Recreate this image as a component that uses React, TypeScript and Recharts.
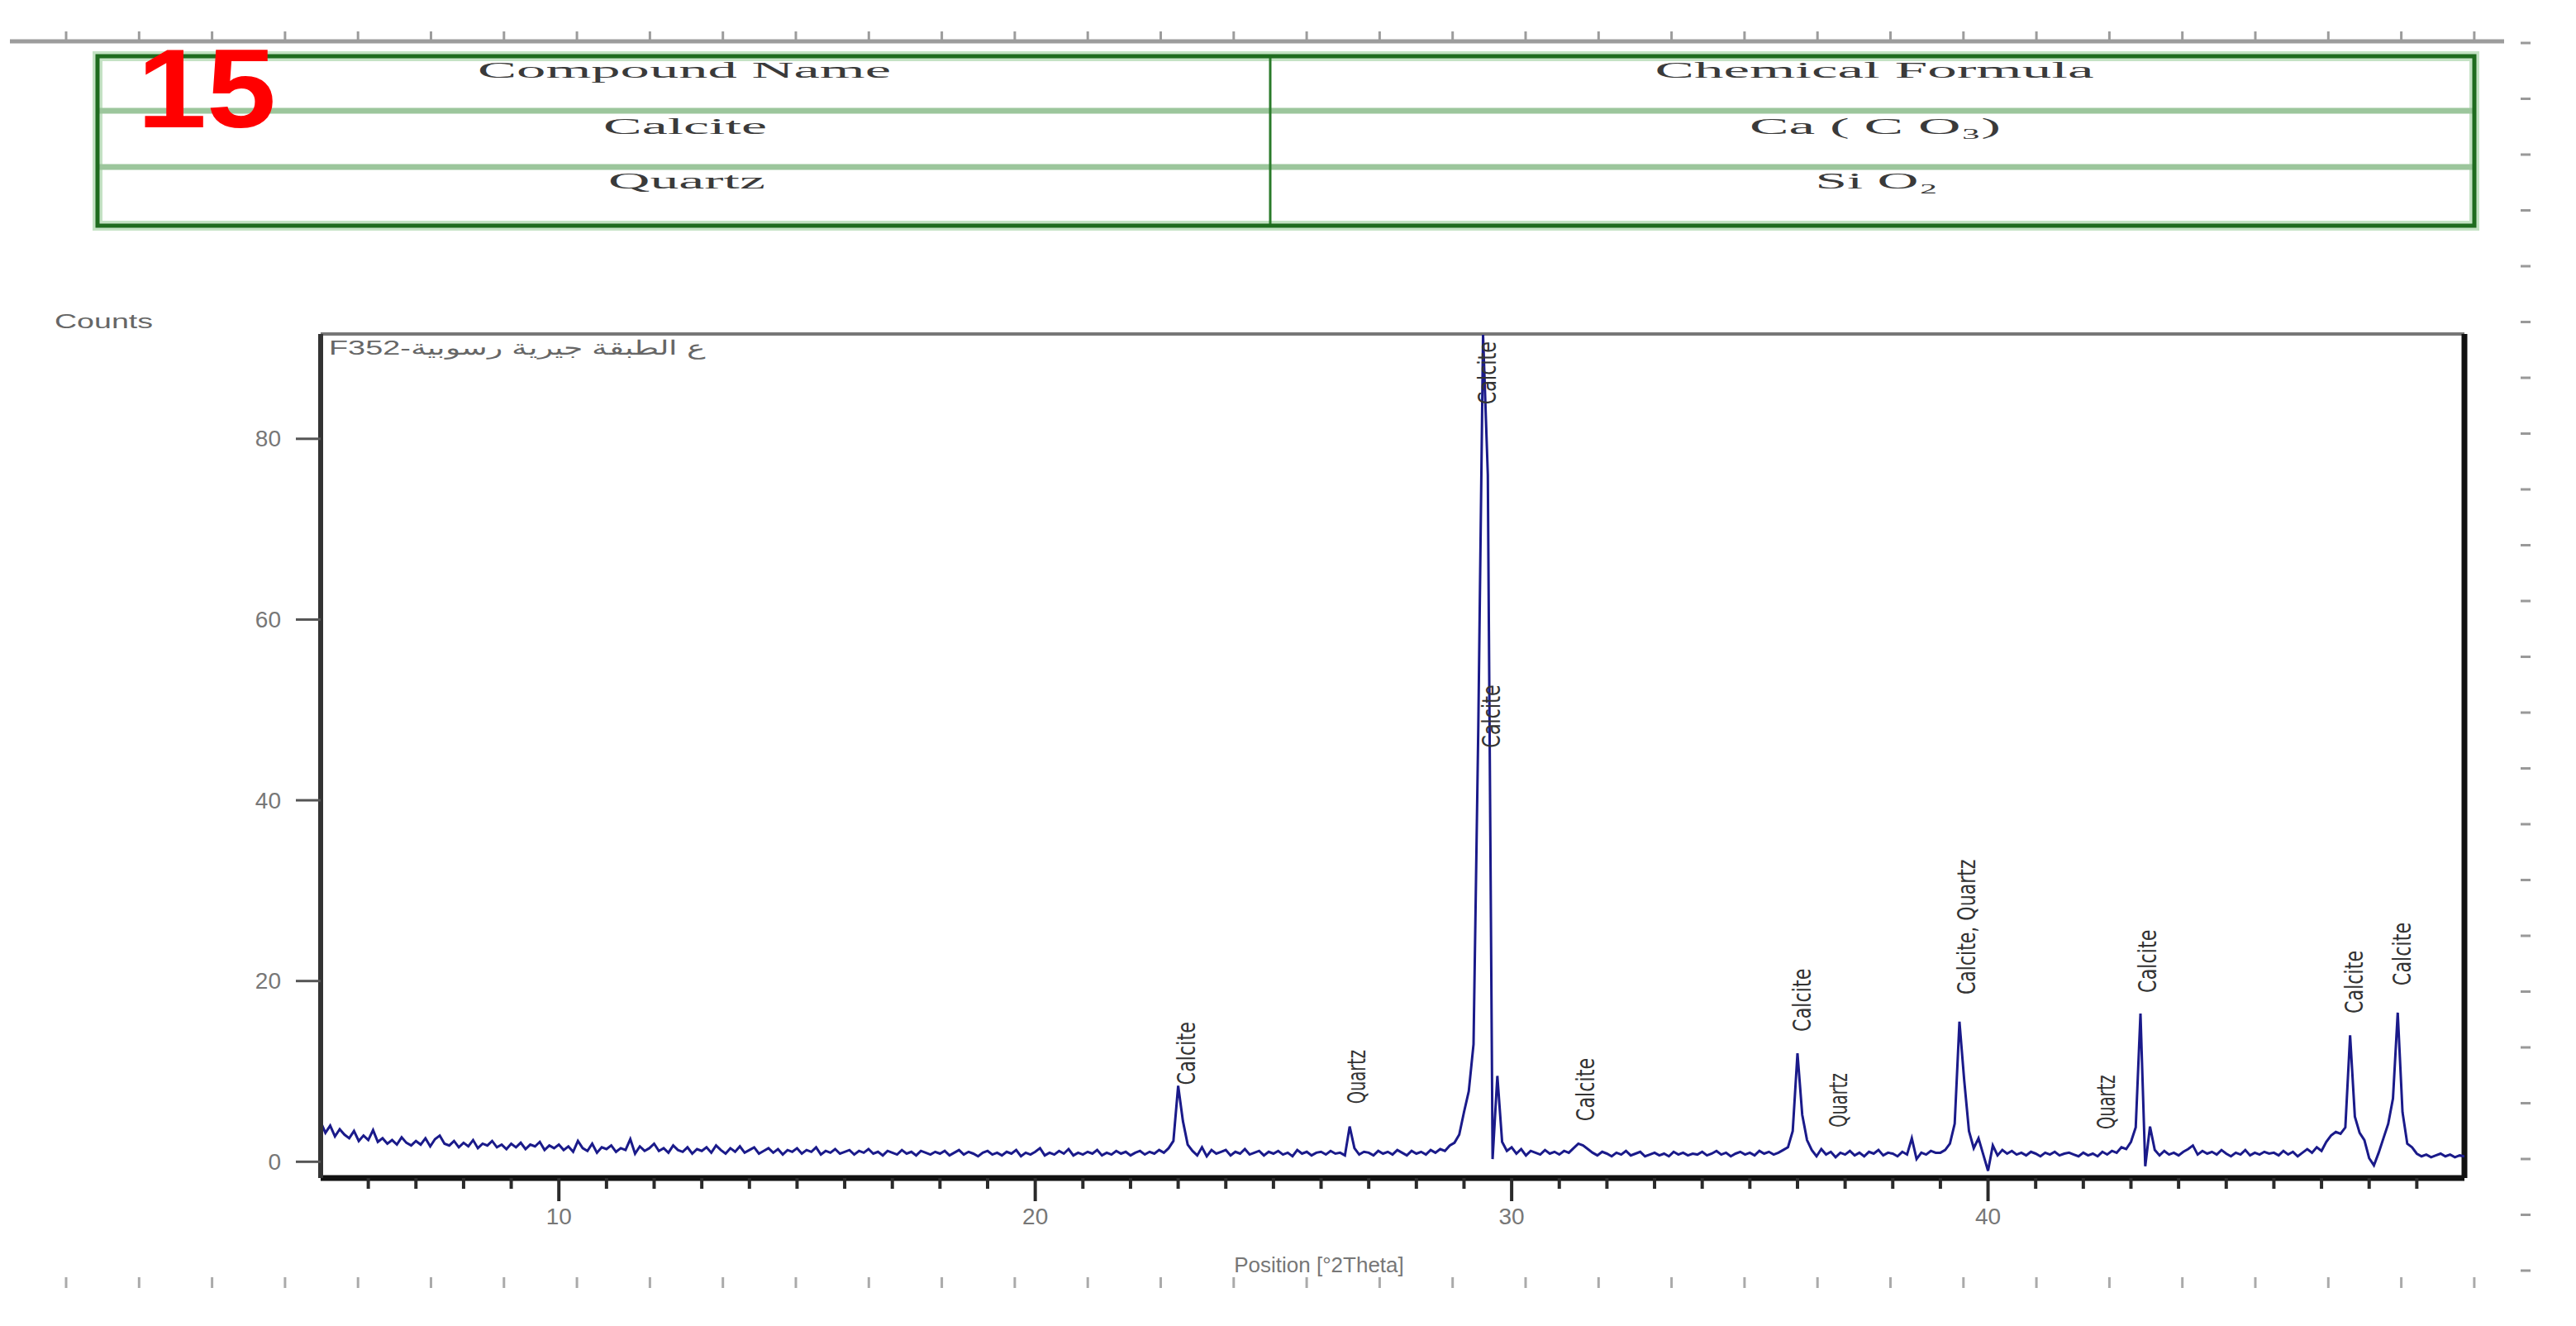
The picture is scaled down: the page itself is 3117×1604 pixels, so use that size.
import { ComposedChart, Line, ReferenceLine, Scatter, XAxis, YAxis } from 'recharts'

// scan grid of the diffractometer (°2Theta)
const SCAN_START = 5
const SCAN_STEP = 0.1

// counts, one row per degree (x.0 … x.9)
const COUNTS = [
  4.4, 3.2, 4.0, 2.8, 3.6, 3.0, 2.6, 3.4, 2.3, 2.9, // 5
  2.4, 3.5, 2.2, 2.6, 2.0, 2.4, 1.9, 2.7, 2.1, 1.8, // 6
  2.3, 1.9, 2.6, 1.7, 2.5, 2.9, 2.0, 1.8, 2.3, 1.6, // 7
  2.1, 1.7, 2.4, 1.5, 2.0, 1.8, 2.3, 1.6, 1.9, 1.4, // 8
  2.0, 1.6, 2.1, 1.4, 1.9, 1.7, 2.2, 1.3, 1.8, 1.5, // 9
  1.9, 1.3, 1.7, 1.1, 2.3, 1.5, 1.2, 2.0, 1.0, 1.6, // 10
  1.4, 1.8, 1.1, 1.5, 1.3, 2.5, 0.9, 1.7, 1.2, 1.5, // 11
  2.0, 1.2, 1.5, 1.0, 1.8, 1.3, 1.1, 1.6, 0.9, 1.4, // 12
  1.2, 1.6, 1.0, 1.8, 1.3, 0.9, 1.5, 1.1, 1.7, 1.0, // 13
  1.3, 1.6, 0.9, 1.2, 1.5, 1.0, 1.4, 0.8, 1.3, 1.1, // 14
  1.5, 0.9, 1.3, 1.1, 1.6, 0.8, 1.2, 1.0, 1.4, 0.9, // 15
  1.1, 1.3, 0.8, 1.2, 1.0, 1.4, 0.9, 1.1, 0.7, 1.2, // 16
  1.0, 0.8, 1.3, 0.9, 1.1, 0.7, 1.2, 1.0, 0.8, 1.1, // 17
  0.9, 1.2, 0.7, 1.0, 1.3, 0.8, 1.1, 0.9, 0.6, 1.0, // 18
  1.2, 0.8, 1.0, 0.7, 1.1, 0.9, 1.3, 0.6, 1.0, 0.8, // 19
  1.1, 1.5, 0.7, 1.0, 0.8, 1.2, 0.9, 1.4, 0.7, 1.0, // 20
  0.8, 1.1, 0.9, 1.3, 0.7, 1.0, 0.8, 1.2, 0.9, 1.1, // 21
  0.7, 1.0, 1.2, 0.8, 1.1, 0.9, 1.3, 1.0, 1.5, 2.3, // 22
  8.4, 4.5, 1.9, 1.2, 0.7, 1.6, 0.6, 1.3, 0.9, 1.1, // 23
  1.3, 0.7, 1.1, 0.9, 1.4, 0.8, 1.0, 1.2, 0.7, 1.1, // 24
  0.9, 1.2, 0.8, 1.0, 0.6, 1.3, 0.9, 1.1, 0.7, 1.0, // 25
  1.1, 0.8, 1.2, 0.9, 1.0, 0.7, 3.9, 1.5, 0.8, 1.1, // 26
  1.0, 0.7, 1.2, 0.9, 1.1, 0.8, 1.3, 1.0, 0.7, 1.2, // 27
  0.9, 1.1, 0.8, 1.3, 1.0, 1.4, 1.2, 1.8, 2.1, 3.0, // 28
  5.5, 7.8, 13.0, 48.0, 91.5, 76.0, 0.3, 9.5, 2.2, 1.2, // 29
  1.6, 0.9, 1.4, 0.7, 1.2, 1.0, 0.8, 1.3, 0.9, 1.1, // 30
  0.8, 1.2, 1.0, 1.5, 2.0, 1.8, 1.4, 1.0, 0.7, 1.1, // 31
  0.9, 0.6, 1.0, 0.8, 1.2, 0.7, 0.9, 1.1, 0.6, 0.8, // 32
  1.0, 0.7, 0.9, 0.6, 1.1, 0.8, 1.0, 0.7, 0.9, 0.8, // 33
  1.1, 0.7, 0.9, 1.2, 0.8, 1.0, 0.6, 0.9, 1.1, 0.8, // 34
  1.0, 0.7, 1.2, 0.9, 1.1, 0.8, 1.0, 1.3, 1.6, 3.4, // 35
  12.0, 5.2, 2.4, 1.3, 0.6, 1.4, 0.8, 1.1, 0.5, 1.0, // 36
  0.8, 1.2, 0.7, 1.0, 0.6, 1.1, 0.9, 1.3, 0.7, 1.0, // 37
  0.9, 0.6, 1.1, 0.8, 2.6, 0.3, 1.0, 0.8, 1.2, 1.0, // 38
  1.0, 1.3, 2.0, 4.2, 15.5, 9.0, 3.4, 1.5, 2.6, 0.8, // 39
  -1.0, 1.8, 0.7, 1.3, 0.9, 1.2, 0.8, 1.0, 0.7, 1.1, // 40
  0.9, 0.6, 1.0, 0.8, 1.1, 0.7, 0.9, 1.0, 0.8, 0.6, // 41
  1.0, 0.7, 0.9, 0.6, 1.1, 0.8, 1.2, 1.0, 1.6, 1.4, // 42
  2.2, 3.8, 16.4, -0.5, 3.9, 1.3, 0.7, 1.2, 0.8, 1.0, // 43
  0.7, 1.1, 1.4, 1.8, 0.8, 1.2, 0.9, 1.1, 0.8, 1.3, // 44
  0.9, 0.6, 1.0, 0.8, 1.3, 0.7, 1.0, 0.8, 1.1, 0.9, // 45
  1.0, 0.7, 1.2, 0.8, 1.1, 0.6, 1.0, 1.4, 1.0, 1.6, // 46
  1.2, 2.2, 2.9, 3.3, 3.1, 3.8, 14.0, 5.0, 3.2, 2.4, // 47
  0.4, -0.4, 1.0, 2.6, 4.2, 7.0, 16.5, 5.5, 2.0, 1.6, // 48
  0.9, 0.6, 0.8, 0.5, 0.7, 0.9, 0.6, 0.8, 0.5, 0.7, // 49
  0.6, // 50
]

// phase labels above the reflections
const PEAK_THETA = [23.17, 26.75, 29.48, 29.58, 31.55, 36.1, 36.86, 39.55, 42.48, 43.34, 47.68, 48.69]
const PEAK_LABEL_BASE = [8.5, 6.4, 83.8, 45.8, 4.5, 14.4, 3.8, 18.5, 3.6, 18.7, 16.4, 19.5]
const PEAK_NAMES = [
  'Calcite', 'Quartz', 'Calcite', 'Calcite', 'Calcite', 'Calcite',
  'Quartz', 'Calcite, Quartz', 'Quartz', 'Calcite', 'Calcite', 'Calcite',
]

const Y_TICKS = [0, 20, 40, 60, 80]
const X_TICKS = [
  6, 7, 8, 9, 10, 11, 12, 13, 14, 15, 16, 17, 18, 19, 20, 21, 22, 23, 24, 25, 26, 27,
  28, 29, 30, 31, 32, 33, 34, 35, 36, 37, 38, 39, 40, 41, 42, 43, 44, 45, 46, 47, 48, 49,
]

const TABLE_HEAD = ['Compound Name', 'Chemical Formula']
const COMPOUNDS = ['Calcite', 'Quartz']
const FORMULAS = ['Ca ( C O₃)', 'Si O₂']

const SANS = "'Liberation Sans', Arial, sans-serif"
const NARROW = "'Liberation Sans Narrow', 'DejaVu Sans Condensed', sans-serif"
const SERIF = "'Liberation Serif', 'Times New Roman', serif"

const scan = COUNTS.map((c, i) => ({ theta: +(SCAN_START + i * SCAN_STEP).toFixed(1), counts: c }))
const labels = PEAK_THETA.map((t, i) => ({ theta: t, labelBase: PEAK_LABEL_BASE[i], name: PEAK_NAMES[i] }))

const PeakLabel = (props: any) => {
  const { cx, cy, payload } = props
  return (
    <text
      x={cx}
      y={cy}
      transform={`rotate(-90 ${cx} ${cy})`}
      textAnchor="start"
      dominantBaseline="central"
      fontSize={30}
      fontFamily={NARROW}
      fill="#333"
      textLength={payload.name.length * 10.9}
      lengthAdjust="spacingAndGlyphs"
    >
      {payload.name}
    </text>
  )
}

const XTick = (props: any) => {
  const { x, y, payload } = props
  const major = payload.value % 10 === 0
  return (
    <g>
      <line x1={x} x2={x} y1={y} y2={y + (major ? 28 : 13)} stroke="#2a2a2a" strokeWidth={4} />
      {major && (
        <text x={x} y={y + 46} textAnchor="middle" dominantBaseline="central" fontSize={28} fontFamily={SANS} fill="#777">
          {payload.value}
        </text>
      )}
    </g>
  )
}

const YTick = (props: any) => {
  const { x, y, payload } = props
  return (
    <text x={x} y={y} textAnchor="end" dominantBaseline="central" fontSize={28} fontFamily={SANS} fill="#777">
      {payload.value}
    </text>
  )
}

const RULER_X = Array.from({ length: 34 }, (_, k) => 80 + k * 88.3)
const RULER_Y = Array.from({ length: 23 }, (_, k) => 52 + k * 67.5)

function Decor() {
  const cellText = (x: number, y: number, s: string, w: number) => (
    <text
      key={s}
      x={x}
      y={y}
      textAnchor="middle"
      dominantBaseline="central"
      fontSize={28}
      fontFamily={SERIF}
      fill="#3a3a3a"
      textLength={w}
      lengthAdjust="spacingAndGlyphs"
    >
      {s}
    </text>
  )
  return (
    <svg width={3117} height={1604} style={{ position: 'absolute', left: 0, top: 0, pointerEvents: 'none' }}>
      {/* rulers */}
      <line x1={12} x2={3030} y1={50} y2={50} stroke="#9c9c9c" strokeWidth={5} />
      {RULER_X.map((x) => (
        <g key={x}>
          <line x1={x} x2={x} y1={38} y2={50} stroke="#9c9c9c" strokeWidth={3} />
          <line x1={x} x2={x} y1={1545} y2={1558} stroke="#aaa" strokeWidth={3} />
        </g>
      ))}
      {RULER_Y.map((y) => (
        <line key={y} x1={3050} x2={3062} y1={y} y2={y} stroke="#999" strokeWidth={3} />
      ))}

      {/* compound table */}
      <rect x={118} y={68} width={2876} height={205} fill="none" stroke="#c4e2c4" strokeWidth={12} />
      <line x1={118} x2={2994} y1={134} y2={134} stroke="#9cc69c" strokeWidth={7} />
      <line x1={118} x2={2994} y1={202} y2={202} stroke="#9cc69c" strokeWidth={7} />
      <line x1={1537} x2={1537} y1={68} y2={273} stroke="#2a7a2a" strokeWidth={3} />
      <rect x={118} y={68} width={2876} height={205} fill="none" stroke="#1e6b1e" strokeWidth={5} />
      {cellText(828, 84, TABLE_HEAD[0], 500)}
      {cellText(2268, 84, TABLE_HEAD[1], 531)}
      {cellText(829, 152, COMPOUNDS[0], 198)}
      {cellText(2269, 152, FORMULAS[0], 304)}
      {cellText(831, 218, COMPOUNDS[1], 190)}
      {cellText(2271, 218, FORMULAS[1], 149)}

      <text x={166} y={154} fontSize={136} fontWeight="bold" fontFamily={SANS} fill="#ff0000" textLength={168} lengthAdjust="spacingAndGlyphs">
        15
      </text>

      <text x={66} y={388} dominantBaseline="central" fontSize={24} fontFamily={SANS} fill="#666" textLength={119} lengthAdjust="spacingAndGlyphs">
        Counts
      </text>
      <text x={398} y={420} dominantBaseline="central" fontSize={24} fontFamily={SANS} fill="#666" direction="ltr" textLength={455} lengthAdjust="spacingAndGlyphs">
        <tspan>F352-</tspan>
        <tspan>ع الطبقة جيرية رسوبية</tspan>
      </text>
    </svg>
  )
}

export default function App() {
  return (
    <div style={{ position: 'absolute', left: 0, top: 0, width: 3117, height: 1604, background: '#fff' }}>
      <ComposedChart width={3117} height={1604} data={scan} margin={{ top: 404, right: 135, bottom: 69, left: 288 }}>
        <XAxis
          dataKey="theta"
          type="number"
          domain={[5, 50]}
          allowDataOverflow
          ticks={X_TICKS}
          interval={0}
          tickSize={0}
          tickMargin={0}
          tickLine={false}
          tick={<XTick />}
          height={110}
          axisLine={{ stroke: '#111', strokeWidth: 7 }}
          label={{
            value: 'Position [°2Theta]',
            position: 'insideBottom',
            offset: -4,
            dx: -89,
            fontSize: 26,
            fontFamily: SANS,
            fill: '#777',
          }}
        />
        <YAxis
          type="number"
          domain={[-1.8, 91.6]}
          allowDataOverflow
          ticks={Y_TICKS}
          width={100}
          tickSize={30}
          tickMargin={18}
          tick={<YTick />}
          tickLine={{ stroke: '#555', strokeWidth: 3 }}
          axisLine={{ stroke: '#333', strokeWidth: 6 }}
        />
        {/* plot frame: top and right edges */}
        <ReferenceLine y={91.6} stroke="#777" strokeWidth={4} ifOverflow="visible" />
        <ReferenceLine x={50} stroke="#111" strokeWidth={7} ifOverflow="visible" />
        <Line
          type="linear"
          dataKey="counts"
          stroke="#1a1a8a"
          strokeWidth={3}
          dot={false}
          isAnimationActive={false}
        />
        <Scatter data={labels} dataKey="labelBase" shape={<PeakLabel />} isAnimationActive={false} />
      </ComposedChart>
      <Decor />
    </div>
  )
}
